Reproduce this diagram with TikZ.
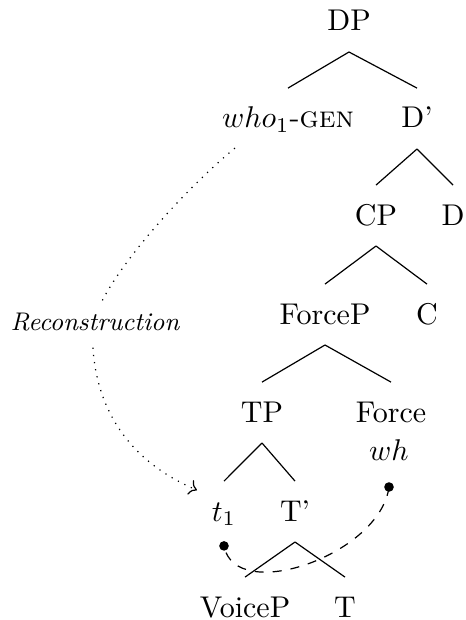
\documentclass[tikz,border=0pt]{standalone}
\usetikzlibrary{arrows.meta}
\begin{document}
\begin{tikzpicture}[x=0.33333pt,y=-0.33333pt,
  lbl/.style={anchor=base,inner sep=0pt,outer sep=0pt},
  branch/.style={line width=0.4pt},
  dotdot/.style={fill=black}]
\useasboundingbox (0,0) rectangle (465,620);
% nodes
\node[lbl] (DP) at (349,31) {DP};
\node[lbl] (who) at (288,128) {$who_1$-\textsc{gen}};
\node[lbl] (Dbar) at (417,128) {D'};
\node[lbl] (CP) at (376,225) {CP};
\node[lbl] (D) at (453,225) {D};
\node[lbl] (ForceP) at (325,324) {ForceP};
\node[lbl] (C) at (427,324) {C};
\node[lbl] (TP) at (262,422) {TP};
\node[lbl] (Force) at (391,422) {Force};
\node[lbl] (wh) at (389,460) {$wh$};
\node[lbl] (t1) at (224,521) {$t_1$};
\node[lbl] (Tbar) at (295,521) {T'};
\node[lbl] (VoiceP) at (245,617) {VoiceP};
\node[lbl] (T) at (345,617) {T};
% branches
\foreach \p/\c in {DP/who,DP/Dbar,Dbar/CP,Dbar/D,CP/ForceP,CP/C,ForceP/TP,ForceP/Force,TP/t1,TP/Tbar,Tbar/VoiceP,Tbar/T}
  \draw[branch] ([yshift=-7pt]\p.base) -- ([yshift=13.3pt]\c.base);
% reconstruction arrow
\coordinate (rs) at ([xshift=-17.7pt,yshift=-6.7pt]who.base);
\coordinate (re) at ([xshift=-9pt,yshift=10.3pt]t1.base);
\draw[dotted,->] (rs) .. controls (175,198) and (100,285) .. (93,325)
  .. controls (90,375) and (105,451) .. (re);
\node[fill=white,inner sep=4pt,font=\fontsize{8.5}{10}\selectfont\itshape] (rec) at (95,322) {Reconstruction};
% agreement dashed
\coordinate (d1) at ([yshift=-9pt]wh.base);
\coordinate (d2) at ([yshift=-8.3pt]t1.base);
\draw[dashed] (d1) .. controls (380,555) and (235,605) .. (d2);
\fill[dotdot] (d1) circle (1.6pt);
\fill[dotdot] (d2) circle (1.6pt);
\end{tikzpicture}
\end{document}
